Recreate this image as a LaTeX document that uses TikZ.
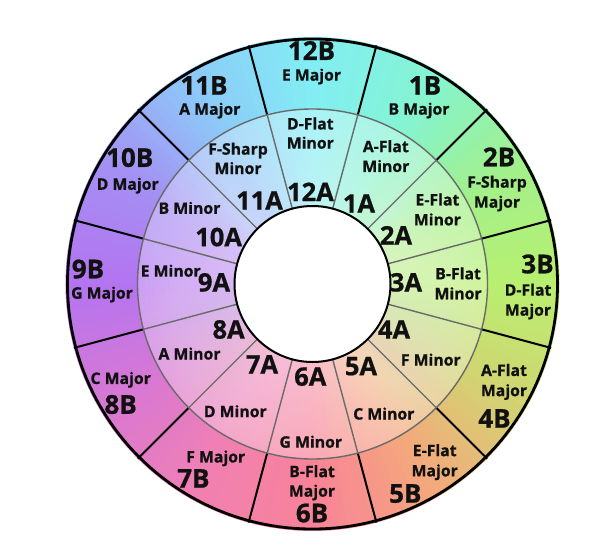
\documentclass[tikz,border=0pt]{standalone}
\usepackage{fontspec}
\setmainfont{Open Sans}[BoldFeatures={FakeBold=0.8}]
\definecolor{c0}{HTML}{B8F070}
\definecolor{c1}{HTML}{A2F08C}
\definecolor{c2}{HTML}{84F4D2}
\definecolor{c3}{HTML}{82EEF4}
\definecolor{c4}{HTML}{8CCAF8}
\definecolor{c5}{HTML}{A490F4}
\definecolor{c6}{HTML}{B474F0}
\definecolor{c7}{HTML}{D878D4}
\definecolor{c8}{HTML}{F080B4}
\definecolor{c9}{HTML}{F88298}
\definecolor{c10}{HTML}{F4A87C}
\definecolor{c11}{HTML}{D2D472}
\definecolor{spokegray}{HTML}{6A6A6A}
\definecolor{inkcol}{HTML}{111111}
\tikzset{
  numB/.style={font=\fontsize{26}{26}\selectfont\bfseries, text=inkcol, inner sep=0pt, text height=18.6pt, text depth=0pt},
  numA/.style={font=\fontsize{25.5}{25.5}\selectfont\bfseries, text=inkcol, inner sep=0pt, text height=18.2pt, text depth=0pt},
  keyname/.style={font=\fontsize{15.8}{15.8}\selectfont\bfseries, text=inkcol, inner sep=0pt, text height=11.3pt, text depth=0pt},
  outerspoke/.style={draw=black, line width=2pt},
  innerspoke/.style={draw=spokegray, line width=1.4pt},
}
\begin{document}
\begin{tikzpicture}[x=1pt,y=1pt]
\useasboundingbox (0,0) rectangle (612,547);
\fill[white] (0,0) rectangle (612,547);
\coordinate (O) at (312.5,263);
% conic colour gradient
\foreach \a in {0,2,...,358} {
  \pgfmathtruncatemacro{\k}{floor(\a/30)}
  \pgfmathtruncatemacro{\kn}{mod(\k+1,12)}
  \pgfmathtruncatemacro{\p}{100*(\a+1-30*\k)/30}
  \colorlet{wedgecol}{c\kn!\p!c\k}
  \fill[wedgecol] (O) -- ++(\a:247) arc[start angle=\a, end angle=\a+2.4, radius=247] -- cycle;
}
% lighter inner ring
\fill[white, opacity=0.3, even odd rule] (O) circle[radius=175] (O) circle[radius=78];
\foreach \r in {83,88,...,173} {
  \fill[white, opacity=0.025] (O) circle[radius=\r];
}
% spokes
\foreach \a in {15,45,...,345} {
  \draw[outerspoke] (O) ++(\a:175) -- ++(\a:72);
  \draw[innerspoke] (O) ++(\a:78) -- ++(\a:97);
}
\draw[draw=spokegray, line width=1.4pt] (O) circle[radius=175];
\draw[black, line width=2.8pt] (O) circle[radius=245];
\filldraw[fill=white, draw=black, line width=2pt] (O) circle[radius=78];

% outer ring labels
\node[numB] (n12B) at (311.5,496.4) {12B};
\node[keyname] (k12B) at (311.5,472) {E Major};
\node[numB] (n1B) at (425,461.6) {1B};
\node[keyname] (k1B) at (419,438) {B Major};
\node[numB] (n2B) at (499,390) {2B};
\node[keyname] (k2Ba) at (497,365) {F-Sharp};
\node[keyname] (k2Bb) at (497,345) {Major};
\node[numB] (n3B) at (537.5,283) {3B};
\node[keyname] (k3Ba) at (528,257) {D-Flat};
\node[keyname] (k3Bb) at (528,237) {Major};
\node[keyname] (k4Ba) at (504,176.7) {A-Flat};
\node[keyname] (k4Bb) at (504,156.5) {Major};
\node[numB] (n4B) at (494.5,128.6) {4B};
\node[keyname] (k5Ba) at (434.7,96.5) {E-Flat};
\node[keyname] (k5Bb) at (434.7,76.3) {Major};
\node[numB] (n5B) at (405.3,53.6) {5B};
\node[keyname] (k6Ba) at (312,75.5) {B-Flat};
\node[keyname] (k6Bb) at (312,56) {Major};
\node[numB] (n6B) at (312,34) {6B};
\node[keyname] (k7B) at (215.7,90.2) {F Major};
\node[numB] (n7B) at (193.4,68.6) {7B};
\node[keyname] (k8B) at (120.7,168.7) {C Major};
\node[numB] (n8B) at (120.7,142.5) {8B};
\node[numB] (n9B) at (88,278) {9B};
\node[keyname] (k9B) at (102,254) {G Major};
\node[numB] (n10B) at (129.7,389.4) {10B};
\node[keyname] (k10B) at (127.7,362.9) {D Major};
\node[numB] (n11B) at (204,461.6) {11B};
\node[keyname] (k11B) at (209.8,437.9) {A Major};

% inner ring numbers
\node[numA] (n12A) at (310.5,355) {12A};
\node[numA] (n1A) at (359,343.5) {1A};
\node[numA] (n2A) at (396,311.6) {2A};
\node[numA] (n3A) at (406,264.6) {3A};
\node[numA] (n4A) at (394,217.5) {4A};
\node[numA] (n5A) at (361,180.9) {5A};
\node[numA] (n6A) at (310.3,170.4) {6A};
\node[numA] (n7A) at (262,182.6) {7A};
\node[numA] (n8A) at (228.6,217.5) {8A};
\node[numA] (n9A) at (214,264.6) {9A};
\node[numA] (n10A) at (218.6,309.9) {10A};
\node[numA] (n11A) at (259.5,346.5) {11A};

% inner ring names
\node[keyname] (k12Aa) at (310.3,423.2) {D-Flat};
\node[keyname] (k12Ab) at (310.3,404) {Minor};
\node[keyname] (k1Aa) at (385.8,400.5) {A-Flat};
\node[keyname] (k1Ab) at (385.8,380.7) {Minor};
\node[keyname] (k2Aa) at (437.4,347.2) {E-Flat};
\node[keyname] (k2Ab) at (437.4,327.3) {Minor};
\node[keyname] (k3Aa) at (458.1,273.3) {B-Flat};
\node[keyname] (k3Ab) at (458.1,253.4) {Minor};
\node[keyname] (k4A) at (430.8,187.1) {F Minor};
\node[keyname] (k5A) at (383.8,133.1) {C Minor};
\node[keyname] (k6A) at (310.8,105) {G Minor};
\node[keyname] (k7A) at (235.3,135.5) {D Minor};
\node[keyname] (k8A) at (189.5,193.1) {A Minor};
\node[keyname] (k9A) at (170.7,276) {E Minor};
\node[keyname] (k10A) at (189.5,338.8) {B Minor};
\node[keyname] (k11Aa) at (238,398) {F-Sharp};
\node[keyname] (k11Ab) at (238,378.6) {Minor};
\end{tikzpicture}
\end{document}
